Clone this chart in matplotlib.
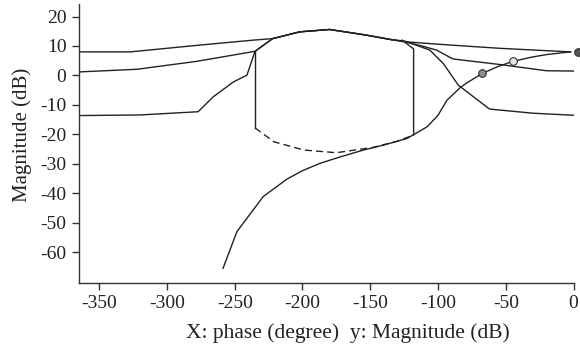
import matplotlib
matplotlib.use("Agg")
import matplotlib.pyplot as plt
import numpy as np

plt.rcParams['font.family'] = ['Liberation Serif', 'DejaVu Serif']
plt.rcParams['axes.unicode_minus'] = False

# shared top arc (phase deg, magnitude dB)
arc_ph = [-235, -222, -202, -180, -153, -135]
arc_db = [8.2, 12.5, 14.8, 15.6, 13.7, 12.2]

# curve 1 (starts at 8 dB)
c1_ph = [-365, -327, -276, -236, -222, -202, -180, -153, -135, -126, -100, -54, -2]
c1_db = [8.0, 8.0, 10.3, 12.0, 12.5, 14.8, 15.6, 13.7, 12.2, 11.5, 10.6, 9.2, 8.0]

# curve 2 (starts at 1 dB)
c2_ph = [-365, -322, -278, -235] + arc_ph[1:] + [-126, -111, -101, -89, -54, -20, 0]
c2_db = [1.2, 2.1, 4.8, 8.2] + arc_db[1:] + [11.6, 9.9, 8.6, 5.6, 3.7, 1.6, 1.5]

# curve 3 (starts at -13.5 dB)
c3_ph = [-365, -320, -277, -266, -251, -241, -235] + arc_ph[1:] + [-124, -106, -96, -85, -62, -30, 0]
c3_db = [-13.6, -13.4, -12.3, -7.3, -2.2, 0.1, 8.2] + arc_db[1:] + [11.6, 8.6, 4.0, -3.3, -11.4, -12.8, -13.5]

# bottom curve with markers
c4_ph = [-258.6, -248.4, -229, -211.6, -200, -187, -172, -155, -140, -123, -108, -100,
         -93.4, -83.6, -78.7, -67.2, -56.5, -44.7, -30, -19.6, -2.4]
c4_db = [-65.4, -53, -41.1, -35.2, -32.3, -29.8, -27.6, -25.3, -23.6, -21.4, -17.4, -13.5,
         -8.4, -4.1, -2.5, 0.7, 2.9, 4.8, 6.3, 7.1, 8.0]

# bandwidth contour: two vertical sides and dashed bottom
left_ph = [-235, -235]
left_db = [8.2, -17.8]
right_ph = [-126.5, -118, -118]
right_db = [12.0, 9.0, -20.2]
dash_ph = [-235, -221, -199, -175, -148, -130, -118]
dash_db = [-17.8, -22.5, -25.3, -26.2, -24.4, -22.3, -20.2]

mark_ph = [-67.2, -44.7, 3]
mark_db = [0.7, 4.8, 7.8]
mark_fc = ['#8c8c8c', '#e4e4e4', '#555555']

fig = plt.figure(figsize=(5.8, 3.49), dpi=100)
ax = fig.add_axes([0.136, 0.19, 0.854, 0.799])

lc = '#222222'
lw = 1.0
ax.plot(c1_ph, c1_db, color=lc, lw=lw)
ax.plot(c2_ph, c2_db, color=lc, lw=lw)
ax.plot(c3_ph, c3_db, color=lc, lw=lw)
ax.plot(c4_ph, c4_db, color=lc, lw=lw)
ax.plot(left_ph, left_db, color=lc, lw=lw)
ax.plot(right_ph, right_db, color=lc, lw=lw)
ax.plot(dash_ph, dash_db, color=lc, lw=lw, ls=(0, (5, 3)))
for p, d, fc in zip(mark_ph, mark_db, mark_fc):
    ax.plot(p, d, 'o', ms=5.5, mfc=fc, mec='#333333', mew=0.8, clip_on=False, zorder=5)

ax.set_xlim(-365, 0.5)
ax.set_ylim(-70.3, 24.3)
ax.set_xticks(np.arange(-350, 1, 50))
ax.set_yticks(np.arange(-60, 21, 10))
ax.spines['top'].set_visible(False)
ax.spines['right'].set_visible(False)
for s in ['left', 'bottom']:
    ax.spines[s].set_color('#333333')
    ax.spines[s].set_linewidth(1.0)
ax.tick_params(direction='out', length=5, width=1, color='#333333',
               labelsize=14, labelcolor='#222222', pad=4)

ax.set_xlabel('X: phase (degree)  y: Magnitude (dB)', fontsize=15.5, color='#222222')
ax.xaxis.set_label_coords(0.543, -0.145)
ax.set_ylabel('Magnitude (dB)', fontsize=15, color='#222222')
ax.yaxis.set_label_coords(-0.095, 0.53)

fig.savefig('out.png', dpi=100)
